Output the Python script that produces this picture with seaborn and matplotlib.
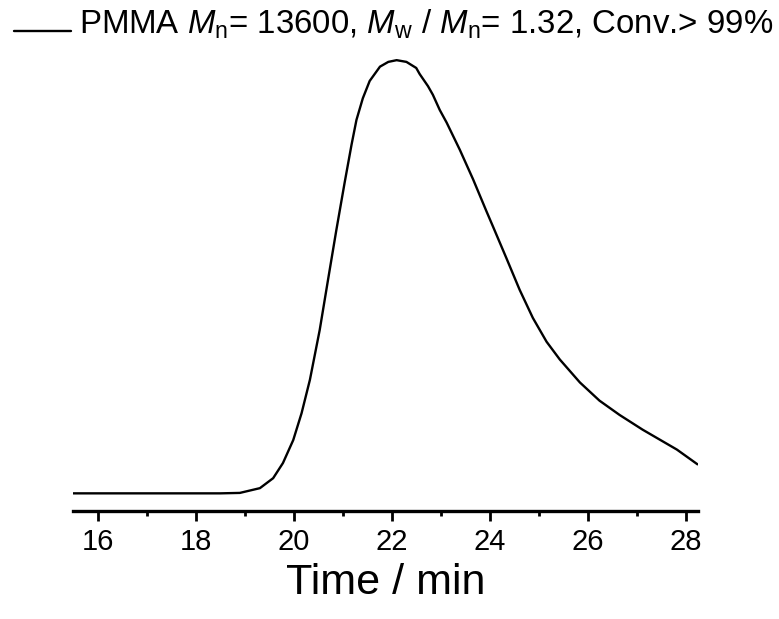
import numpy as np
import pandas as pd
import seaborn as sns
import matplotlib
matplotlib.use('Agg')
import matplotlib.pyplot as plt
from matplotlib.ticker import MultipleLocator
from matplotlib.legend_handler import HandlerLine2D

# GPC trace (normalised RI signal)
time_min = [15.5, 17.0, 18.5, 18.90, 19.31, 19.58, 19.78, 19.99, 20.16, 20.33,
            20.53, 20.70, 20.87, 21.04, 21.18, 21.28, 21.41, 21.55, 21.76, 21.93,
            22.10, 22.30, 22.50, 22.57, 22.74, 22.84, 22.98, 23.12, 23.39, 23.66,
            23.93, 24.07, 24.34, 24.61, 24.88, 25.16, 25.43, 25.84, 26.24, 26.65,
            27.12, 27.47, 27.82, 28.24]
signal = [0.0, 0.0, 0.0, 0.001, 0.012, 0.035, 0.070, 0.123, 0.185, 0.262,
          0.377, 0.493, 0.608, 0.718, 0.805, 0.862, 0.912, 0.952, 0.985, 0.996,
          1.0, 0.996, 0.982, 0.968, 0.940, 0.920, 0.885, 0.856, 0.793, 0.725,
          0.652, 0.615, 0.543, 0.470, 0.405, 0.350, 0.309, 0.256, 0.214, 0.181,
          0.147, 0.124, 0.101, 0.067]
x_ticks = [16, 18, 20, 22, 24, 26, 28]
label = (r"PMMA $\mathit{M}_\mathregular{n}$= 13600, $\mathit{M}_\mathregular{w}$ / "
         r"$\mathit{M}_\mathregular{n}$= 1.32, Conv.> 99%")

df = pd.DataFrame({'time': time_min, 'signal': signal})


# legend line sits near the text baseline, like in the original
class LowLine(HandlerLine2D):
    def create_artists(self, legend, orig_handle, xdescent, ydescent, width, height, fontsize, trans):
        arts = super().create_artists(legend, orig_handle, xdescent, ydescent, width, height, fontsize, trans)
        for a in arts:
            a.set_ydata(np.asarray(a.get_ydata()) - 0.38 * height)
        return arts


sns.set_style('white')
plt.rcParams['font.family'] = ['Liberation Sans', 'DejaVu Sans']
plt.rcParams['mathtext.fontset'] = 'custom'
plt.rcParams['mathtext.rm'] = 'Liberation Sans'
plt.rcParams['mathtext.it'] = 'Liberation Sans:italic'
plt.rcParams['text.color'] = 'black'
plt.rcParams['axes.labelcolor'] = 'black'
plt.rcParams['xtick.color'] = 'black'

fig = plt.figure(figsize=(7.79, 6.19), dpi=100)
ax = fig.add_axes([0.094, 0.175, 0.802, 0.76])

sns.lineplot(data=df, x='time', y='signal', ax=ax, color='black', linewidth=1.7, label=label)

ax.set_xlim(15.5, 28.25)
ax.set_ylim(-0.04, 1.046)
ax.set_xticks(x_ticks)
ax.xaxis.set_minor_locator(MultipleLocator(1))
ax.set_yticks([])
ax.set_ylabel('')
ax.set_xlabel('Time / min', fontsize=31, labelpad=5)

for s in ['left', 'top', 'right']:
    ax.spines[s].set_visible(False)
ax.spines['bottom'].set_linewidth(2.4)
ax.spines['bottom'].set_color('black')
ax.tick_params(axis='x', which='major', direction='out', length=7.5, width=2,
               labelsize=21, bottom=True, pad=5)
ax.tick_params(axis='x', which='minor', direction='out', length=3.5, width=2, bottom=True)

h, l = ax.get_legend_handles_labels()
ax.legend(h, l, loc='upper left', bbox_to_anchor=(0.01, 0.998), bbox_transform=fig.transFigure,
          frameon=False, fontsize=23.8, handlelength=1.72, handletextpad=0.24,
          borderaxespad=0.0, borderpad=0.2, handler_map={h[0]: LowLine()})

fig.savefig('out.png', dpi=100)
